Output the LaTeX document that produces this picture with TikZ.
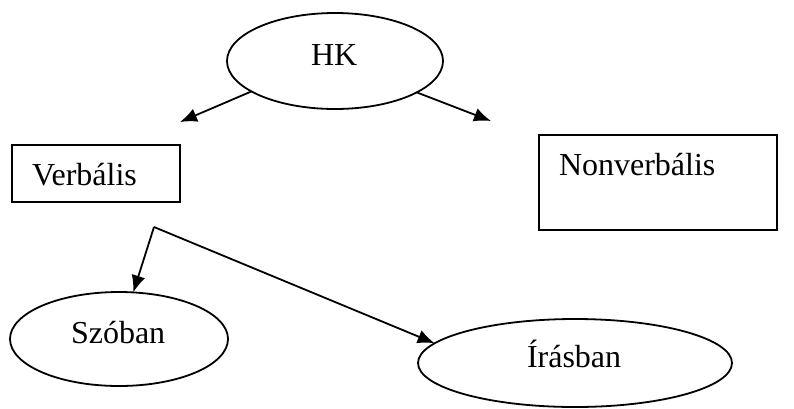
\documentclass[tikz,border=0pt]{standalone}
\usepackage{fontspec}
\setmainfont{Liberation Serif}
\usetikzlibrary{shapes.geometric,arrows.meta}
\begin{document}
\begin{tikzpicture}[x=1pt,y=-1pt,
  every node/.style={inner sep=0pt,outer sep=0pt},
  oval/.style={draw,ellipse,line width=1.8pt},
  frame/.style={draw,rectangle,line width=1.8pt},
  lbl/.style={anchor=base west,font=\fontsize{32}{38}\selectfont},
  link/.style={line width=1.8pt},
  arr/.style={link,-{Latex[length=17pt,width=14pt]}}]
\useasboundingbox (0,0) rectangle (794,408);
% shapes
\node[oval,minimum width=216pt,minimum height=96pt] (hk) at (335,61) {};
\node[frame,minimum width=168pt,minimum height=57pt] (verb) at (96,173.5) {};
\node[frame,minimum width=238pt,minimum height=95pt] (nonverb) at (658,182.5) {};
\node[oval,minimum width=218pt,minimum height=94pt] (szoban) at (119,339) {};
\node[oval,minimum width=314pt,minimum height=88pt] (irasban) at (575,363) {};
% labels
\node[lbl] (hkt) at (311,65) {HK};
\node[lbl] (verbt) at (32,185) {Verbális};
\node[lbl] (nonverbt) at (559,175) {Nonverbális};
\node[lbl] (szobant) at (71,343) {Szóban};
\node[lbl] (irasbant) at (527,367) {Írásban};
% free ends
\coordinate (tipL) at (180,122);
\coordinate (tipR) at (491,121);
\coordinate (corner) at (154,227);
% connectors
\draw[arr] (hk.200.6) -- (tipL);
\draw[arr] (hk.339) -- (tipR);
\draw[arr] (corner) -- (szoban.73);
\draw[arr] (corner) -- (irasban.172);
\end{tikzpicture}
\end{document}
